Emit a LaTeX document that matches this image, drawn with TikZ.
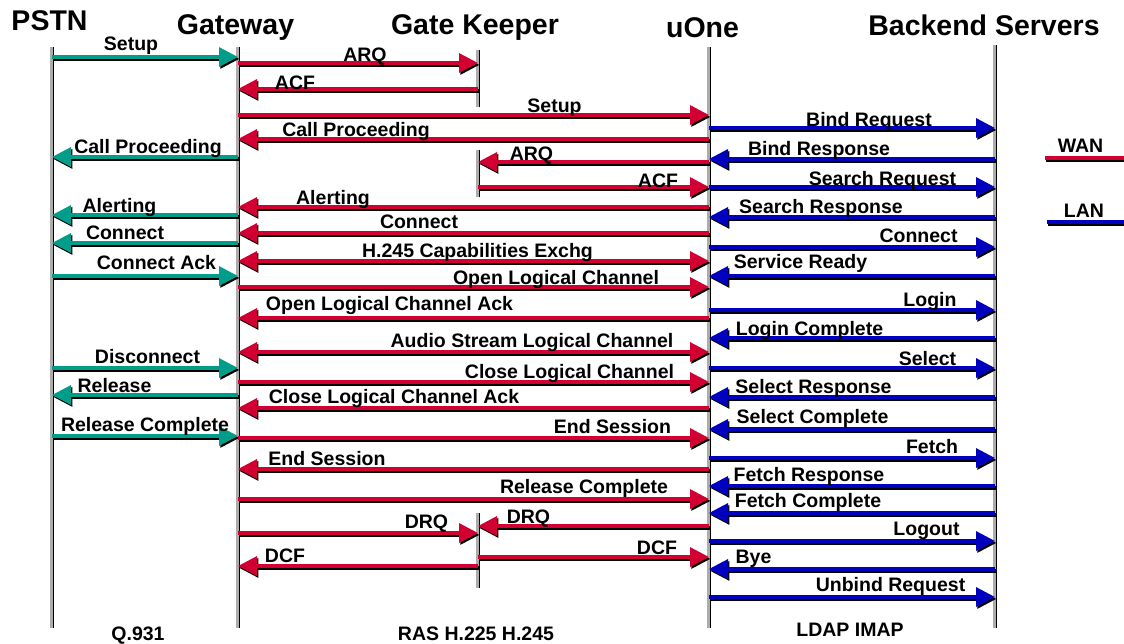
\documentclass[tikz,border=0pt]{standalone}
\usepackage{fontspec}
\setmainfont{Liberation Sans}
\usetikzlibrary{arrows.meta,calc}

\definecolor{wan}{RGB}{210,0,50}
\definecolor{lan}{RGB}{0,0,190}
\definecolor{isdn}{RGB}{0,158,138}
\definecolor{lifegray}{RGB}{172,172,172}

\tikzset{
  msgtext/.style={font=\fontsize{19.5}{20}\selectfont\bfseries, inner sep=0pt, anchor=base},
  headtext/.style={font=\fontsize{28.5}{30}\selectfont\bfseries, inner sep=0pt, anchor=base},
  wire/.style={line width=3.2pt},
  tipR/.style={-{Triangle[length=19pt,width=19pt]}},
  tipB/.style={{Triangle[length=19pt,width=19pt]}-{Triangle[length=19pt,width=19pt]}},
  dropshadow/.style={black, transform canvas={shift={(1.3,1.9)}}},
}

% message between two lifelines at height #4, colour #1, tip style #5
\newcommand\sendmsg[5]{%
  \draw[wire,#5,dropshadow] ($(#2)+(0,#4)$) -- ($(#3)+(0,#4)$);
  \draw[wire,#5,#1] ($(#2)+(0,#4)$) -- ($(#3)+(0,#4)$);}
% message label: name, centre x, baseline y, text
\newcommand\msglabel[4]{\node[msgtext] (#1) at (#2,#3) {#4};}
% lifeline of participant #1 from #2 to #3
\newcommand\lifeline[3]{%
  \draw[line width=1.8pt, black] ($(#1)+(1.3,#2)$) -- ($(#1)+(1.3,#3)$);
  \draw[line width=3pt, lifegray] ($(#1)+(-1,#2)$) -- ($(#1)+(-1,#3)$);}

\begin{document}
\begin{tikzpicture}[x=1pt,y=-1pt]
\useasboundingbox (0,0) rectangle (1124,643);

% participants
\coordinate (pstn) at (52,0);
\coordinate (gw) at (238,0);
\coordinate (gk) at (478,0);
\coordinate (uone) at (709,0);
\coordinate (be) at (995,0);

\node[headtext] (hpstn) at (49.5,30) {PSTN};
\node[headtext] (hgw) at (235.5,34) {Gateway};
\node[headtext] (hgk) at (475,34) {Gate Keeper};
\node[headtext] (huone) at (702.5,37) {uOne};
\node[headtext] (hbe) at (984,35) {Backend Servers};

% lifelines
\lifeline{pstn}{47}{628}
\lifeline{gw}{47}{628}
\lifeline{uone}{47}{628}
\lifeline{be}{45}{628}
\lifeline{gk}{50}{107}
\lifeline{gk}{150}{197}
\lifeline{gk}{513}{588}

% Q.931 between PSTN and gateway
\sendmsg{isdn}{pstn}{gw}{57}{tipR}
\sendmsg{isdn}{gw}{pstn}{157}{tipR}
\sendmsg{isdn}{gw}{pstn}{215}{tipR}
\sendmsg{isdn}{gw}{pstn}{243}{tipR}
\sendmsg{isdn}{pstn}{gw}{276}{tipR}
\sendmsg{isdn}{pstn}{gw}{368}{tipR}
\sendmsg{isdn}{gw}{pstn}{395}{tipR}
\sendmsg{isdn}{pstn}{gw}{436}{tipR}

% RAS / H.225 / H.245
\sendmsg{wan}{gw}{gk}{63}{tipR}
\sendmsg{wan}{gk}{gw}{89}{tipR}
\sendmsg{wan}{gw}{uone}{115}{tipR}
\sendmsg{wan}{uone}{gw}{139}{tipR}
\sendmsg{wan}{uone}{gk}{162}{tipR}
\sendmsg{wan}{gk}{uone}{187}{tipR}
\sendmsg{wan}{uone}{gw}{207}{tipR}
\sendmsg{wan}{uone}{gw}{233}{tipR}
\sendmsg{wan}{gw}{uone}{261}{tipB}
\sendmsg{wan}{gw}{uone}{287}{tipR}
\sendmsg{wan}{uone}{gw}{318}{tipR}
\sendmsg{wan}{gw}{uone}{352}{tipB}
\sendmsg{wan}{gw}{uone}{382}{tipR}
\sendmsg{wan}{uone}{gw}{408}{tipR}
\sendmsg{wan}{gw}{uone}{438}{tipR}
\sendmsg{wan}{uone}{gw}{469}{tipR}
\sendmsg{wan}{gw}{uone}{499}{tipR}
\sendmsg{wan}{gw}{gk}{533}{tipR}
\sendmsg{wan}{uone}{gk}{526}{tipR}
\sendmsg{wan}{gk}{gw}{566}{tipR}
\sendmsg{wan}{gk}{uone}{557}{tipR}

% LDAP / IMAP
\sendmsg{lan}{uone}{be}{128}{tipR}
\sendmsg{lan}{be}{uone}{159}{tipR}
\sendmsg{lan}{uone}{be}{187}{tipR}
\sendmsg{lan}{be}{uone}{217}{tipR}
\sendmsg{lan}{uone}{be}{247}{tipR}
\sendmsg{lan}{be}{uone}{276}{tipR}
\sendmsg{lan}{uone}{be}{310}{tipR}
\sendmsg{lan}{be}{uone}{338}{tipR}
\sendmsg{lan}{uone}{be}{368}{tipR}
\sendmsg{lan}{be}{uone}{397}{tipR}
\sendmsg{lan}{be}{uone}{429}{tipR}
\sendmsg{lan}{uone}{be}{458}{tipR}
\sendmsg{lan}{be}{uone}{486}{tipR}
\sendmsg{lan}{be}{uone}{513}{tipR}
\sendmsg{lan}{uone}{be}{541}{tipR}
\sendmsg{lan}{be}{uone}{569}{tipR}
\sendmsg{lan}{uone}{be}{597}{tipR}

% labels, Q.931
\msglabel{t1}{131}{50}{Setup}
\msglabel{t2}{148}{153}{Call Proceeding}
\msglabel{t3}{119.5}{212}{Alerting}
\msglabel{t4}{125}{239}{Connect}
\msglabel{t5}{156.5}{269}{Connect Ack}
\msglabel{t6}{147.5}{363}{Disconnect}
\msglabel{t7}{114.5}{392}{Release}
\msglabel{t8}{145}{431}{Release Complete}

% labels, RAS / H.225 / H.245
\msglabel{r1}{365}{61}{ARQ}
\msglabel{r2}{295}{89}{ACF}
\msglabel{r3}{554.5}{112}{Setup}
\msglabel{r4}{356}{136}{Call Proceeding}
\msglabel{r5}{531.5}{160}{ARQ}
\msglabel{r6}{658}{187}{ACF}
\msglabel{r7}{333}{204}{Alerting}
\msglabel{r8}{419}{228}{Connect}
\msglabel{r9}{477.5}{257}{H.245 Capabilities Exchg}
\msglabel{r10}{556}{284}{Open Logical Channel}
\msglabel{r11}{389.5}{310}{Open Logical Channel Ack}
\msglabel{r12}{532}{347}{Audio Stream Logical Channel}
\msglabel{r13}{569.5}{378}{Close Logical Channel}
\msglabel{r14}{394}{403}{Close Logical Channel Ack}
\msglabel{r15}{612.5}{433}{End Session}
\msglabel{r16}{327}{465}{End Session}
\msglabel{r17}{584}{493}{Release Complete}
\msglabel{r18}{426.5}{528}{DRQ}
\msglabel{r19}{528.5}{523}{DRQ}
\msglabel{r20}{285}{562}{DCF}
\msglabel{r21}{657}{554}{DCF}

% labels, LDAP / IMAP
\msglabel{b1}{869}{126}{Bind Request}
\msglabel{b2}{819}{155}{Bind Response}
\msglabel{b3}{882.5}{185}{Search Request}
\msglabel{b4}{821}{213}{Search Response}
\msglabel{b5}{918.5}{242}{Connect}
\msglabel{b6}{800.5}{268}{Service Ready}
\msglabel{b7}{930}{306}{Login}
\msglabel{b8}{809.5}{335}{Login Complete}
\msglabel{b9}{927.5}{365}{Select}
\msglabel{b10}{813.5}{393}{Select Response}
\msglabel{b11}{812.5}{423}{Select Complete}
\msglabel{b12}{932}{453}{Fetch}
\msglabel{b13}{809}{481}{Fetch Response}
\msglabel{b14}{808}{507}{Fetch Complete}
\msglabel{b15}{926.5}{535}{Logout}
\msglabel{b16}{753.5}{563}{Bye}
\msglabel{b17}{890.5}{591}{Unbind Request}

% legend
\coordinate (wanA) at (1045,158);
\coordinate (wanB) at (1124,158);
\coordinate (lanA) at (1047,222);
\coordinate (lanB) at (1124,222);
\draw[wire,dropshadow] (wanA) -- (wanB);
\draw[wire,wan] (wanA) -- (wanB);
\draw[wire,dropshadow] (lanA) -- (lanB);
\draw[wire,lan] (lanA) -- (lanB);
\msglabel{lwan}{1080.5}{152}{WAN}
\msglabel{llan}{1084}{217}{LAN}

% protocol names
\msglabel{f1}{138}{640}{Q.931}
\msglabel{f2}{476}{640}{RAS H.225 H.245}
\msglabel{f3}{850}{636}{LDAP IMAP}
\end{tikzpicture}
\end{document}
